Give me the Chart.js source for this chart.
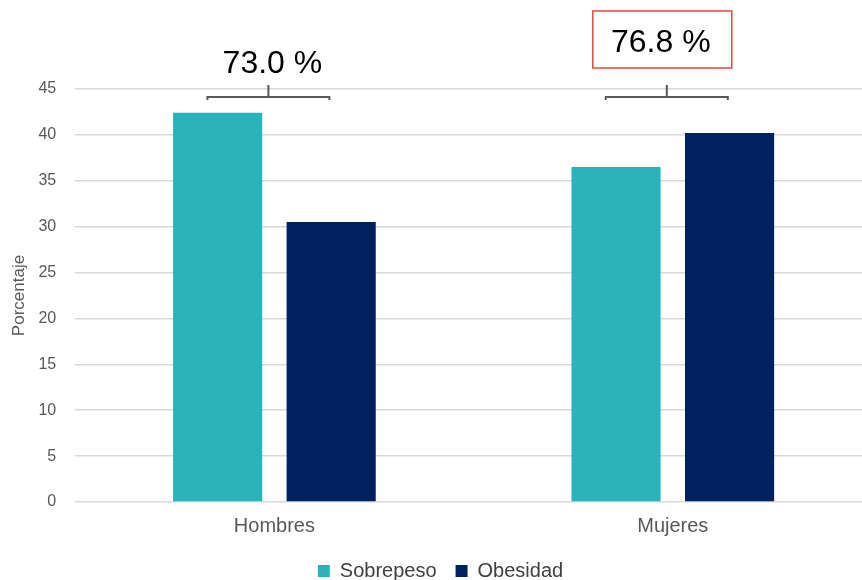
<!DOCTYPE html>
<html>
<head>
<meta charset="utf-8">
<script src="https://cdn.jsdelivr.net/npm/chart.js@4.4.1/dist/chart.umd.min.js"></script>
<style>
  html, body { margin: 0; padding: 0; background: #fff; overflow: hidden; }
  #wrap { position: relative; width: 872px; height: 591px; }
</style>
</head>
<body>
<div id="wrap"><canvas id="chart"></canvas></div>
<script>
// Datos
const categorias = ['Hombres', 'Mujeres'];
const sobrepeso = [42.4, 36.5];
const obesidad = [30.5, 40.2];
const totales = [73.0, 76.8];

// Llaves y totales sobre cada grupo
const llavesPlugin = {
    id: 'llaves',
    afterDraw(chart) {
        const ctx = chart.ctx;
        const x = chart.scales.x;
        const top = chart.chartArea.top;
        ctx.save();
        totales.forEach((t, i) => {
            const cx = x.getPixelForValue(i) - 6;
            const y0 = top + 8;
            // llave
            ctx.strokeStyle = '#595959';
            ctx.lineWidth = 2;
            ctx.beginPath();
            ctx.moveTo(cx - 61, y0 + 3);
            ctx.lineTo(cx - 61, y0);
            ctx.lineTo(cx + 61, y0);
            ctx.lineTo(cx + 61, y0 + 3);
            ctx.moveTo(cx, y0);
            ctx.lineTo(cx, y0 - 12);
            ctx.stroke();
            // texto
            const label = t.toFixed(1) + ' %';
            ctx.font = '32px "Liberation Sans", Arial, sans-serif';
            ctx.fillStyle = '#000';
            ctx.textAlign = 'center';
            ctx.textBaseline = 'alphabetic';
            if (i === 0) {
                ctx.fillText(label, cx + 4, 73);
            } else {
                ctx.fillText(label, cx - 6, 52);
                ctx.strokeStyle = '#e8473f';
                ctx.lineWidth = 1.5;
                ctx.strokeRect(cx - 74, 11, 139, 57);
            }
        });
        ctx.restore();
    }
};

const ctx = document.getElementById('chart').getContext('2d');
new Chart(ctx, {
    type: 'bar',
    data: {
        labels: categorias,
        datasets: [{
            label: 'Sobrepeso',
            data: sobrepeso,
            backgroundColor: '#2bb3bb'
        }, {
            label: 'Obesidad',
            data: obesidad,
            backgroundColor: '#002060'
        }]
    },
    options: {
        responsive: true,
        maintainAspectRatio: false,
        animation: false,
        categoryPercentage: 0.57,
        barPercentage: 0.785,
        layout: {
            padding: { top: 89, right: 0, bottom: 0, left: 9 }
        },
        plugins: {
            legend: {
                position: 'bottom',
                labels: {
                    boxWidth: 12,
                    boxHeight: 12,
                    padding: 19,
                    color: '#404040',
                    font: { family: '"Liberation Sans", Arial, sans-serif', size: 20 }
                }
            },
            tooltip: { enabled: false }
        },
        scales: {
            x: {
                grid: { display: false },
                border: { display: false },
                ticks: {
                    color: '#595959',
                    padding: 4,
                    font: { family: '"Liberation Sans", Arial, sans-serif', size: 20 }
                }
            },
            y: {
                min: 0,
                max: 45,
                border: { display: false },
                grid: { color: '#d9d9d9', lineWidth: 1.5, drawTicks: false },
                ticks: {
                    stepSize: 5,
                    color: '#595959',
                    padding: 19,
                    font: { family: '"Liberation Sans", Arial, sans-serif', size: 16 }
                },
                title: {
                    display: true,
                    text: 'Porcentaje',
                    color: '#595959',
                    padding: { top: 0, bottom: -10 },
                    font: { family: '"Liberation Sans", Arial, sans-serif', size: 17 }
                }
            }
        }
    },
    plugins: [llavesPlugin]
});
</script>
</body>
</html>
